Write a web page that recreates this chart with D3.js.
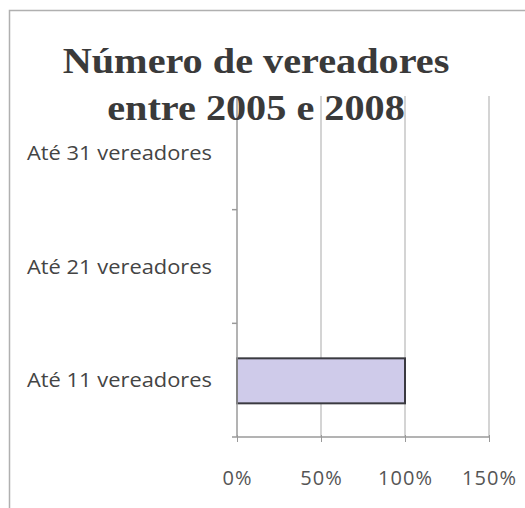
<!DOCTYPE html>
<html>
<head>
<meta charset="utf-8">
<script src="https://cdn.jsdelivr.net/npm/d3@7"></script>
<style>
  body { margin: 0; background: #fff; }
</style>
</head>
<body>
<script>
'use strict';

// chart data
const categories = ["Até 31 vereadores", "Até 21 vereadores", "Até 11 vereadores"];
const values = [0, 0, 1];
const xTicks = [0, 0.5, 1, 1.5];
const titleLines = ["Número de vereadores", "entre 2005 e 2008"];

const svg = d3.select('body')
  .append('svg')
  .attr('width', 525)
  .attr('height', 508);

// outer frame (right/bottom edges fall outside the picture)
svg.append('rect')
  .attr('x', 9.5).attr('y', 10.5)
  .attr('width', 540).attr('height', 520)
  .style('fill', 'none')
  .style('stroke', '#b0b0b0')
  .style('stroke-width', 1.5);

// scales
let xScale = d3.scaleLinear().domain([0, 1.5]).range([237, 489]);
let yScale = d3.scaleBand().domain(categories).range([96, 437]);

// vertical gridlines
svg.append('g')
  .selectAll('line')
  .data(xTicks.slice(1))
  .enter()
  .append('line')
  .attr('x1', (d) => xScale(d)).attr('x2', (d) => xScale(d))
  .attr('y1', 96).attr('y2', 437)
  .style('stroke', '#b8b8b8')
  .style('stroke-width', 1.2);

// bars
svg.append('g')
  .selectAll('rect')
  .data(categories.map((c, i) => ({cat: c, val: values[i]})).filter((d) => d.val > 0))
  .enter()
  .append('rect')
  .attr('x', xScale(0))
  .attr('y', (d) => yScale(d.cat) + 35)
  .attr('width', (d) => xScale(d.val) - xScale(0))
  .attr('height', 45)
  .style('fill', '#cfcbea')
  .style('stroke', '#3a3a40')
  .style('stroke-width', 2);

// x axis
let xAxis = d3.axisBottom(xScale)
  .tickValues(xTicks)
  .tickFormat(d3.format('.0%'))
  .tickSize(5)
  .tickPadding(29);
let gx = svg.append('g')
  .attr('transform', 'translate(0, 437)')
  .call(xAxis);
gx.select('.domain').attr('d', 'M' + (xScale(0) - 5) + ',0H' + xScale(1.5)).style('stroke', '#9a9a9a').style('stroke-width', 1.5);
gx.selectAll('.tick line').style('stroke', '#9a9a9a').attr('y1', -2);
gx.selectAll('.tick text')
  .style('font-family', 'Open Sans, sans-serif')
  .style('font-size', '20px')
  .style('letter-spacing', '1px')
  .style('fill', '#555');

// y axis
let yAxis = d3.axisLeft(yScale).tickSize(0).tickFormat('');
let gy = svg.append('g')
  .attr('transform', 'translate(237, 0)')
  .call(yAxis);
gy.select('.domain').attr('d', 'M0,96V437').style('stroke', '#9a9a9a').style('stroke-width', 1.5);

// category boundary ticks
svg.append('g')
  .selectAll('line')
  .data(categories.slice(1))
  .enter()
  .append('line')
  .attr('x1', 232).attr('x2', 237)
  .attr('y1', (d) => yScale(d)).attr('y2', (d) => yScale(d))
  .style('stroke', '#9a9a9a')
  .style('stroke-width', 1.5);

// category labels, left aligned
svg.append('g')
  .selectAll('text')
  .data(categories)
  .enter()
  .append('text')
  .attr('x', 27)
  .attr('y', (d) => yScale(d) + yScale.bandwidth() / 2)
  .attr('dy', '0.35em')
  .attr('textLength', 185)
  .attr('lengthAdjust', 'spacingAndGlyphs')
  .style('font-family', 'Open Sans, sans-serif')
  .style('font-size', '20px')
  .style('fill', '#444')
  .text((d) => d);

// title, slightly stretched like the scan
svg.append('g')
  .attr('transform', 'translate(256, 0) scale(1.15, 1)')
  .selectAll('text')
  .data(titleLines)
  .enter()
  .append('text')
  .attr('x', 0)
  .attr('y', (d, i) => 73 + i * 47)
  .attr('text-anchor', 'middle')
  .style('font-family', 'Liberation Serif, serif')
  .style('font-weight', 'bold')
  .style('font-size', '35px')
  .style('fill', '#3a3a3a')
  .text((d) => d);
</script>
</body>
</html>
